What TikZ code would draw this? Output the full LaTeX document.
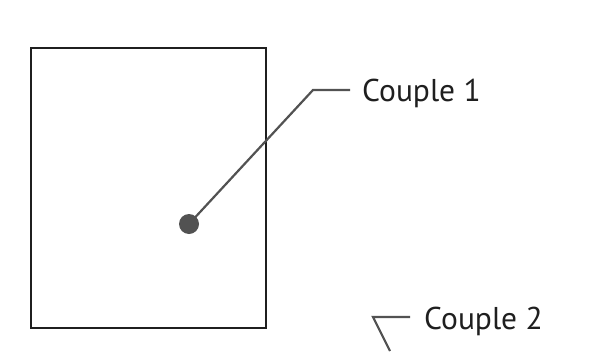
\documentclass[tikz,border=0pt]{standalone}
\usepackage{fontspec}
\setmainfont{PT Sans}
\begin{document}
\begin{tikzpicture}[x=1pt,y=-1pt,
  frame/.style={draw=black!88,line width=2.4pt},
  leader/.style={draw=black!68,line width=2.2pt},
  dotnode/.style={circle,fill=black!68,inner sep=0pt,minimum size=20pt},
  lbl/.style={anchor=base west,inner sep=0pt,text=black!88,font=\fontsize{31.5}{36}\selectfont}]
\useasboundingbox (0,0) rectangle (604,351);
\node[frame,minimum width=235pt,minimum height=280pt,inner sep=0pt] (box) at (148.5,188) {};
\node[dotnode] (dot) at (189,224) {};
\coordinate (b1) at (313,90);
\coordinate (e1) at (350,90);
\node[lbl] (c1) at (362,101.5) {Couple 1};
\draw[leader] (dot.center) -- (b1) -- (e1);
\coordinate (e2) at (410,317);
\coordinate (b2) at (373,317);
\coordinate (f2) at (390,351);
\node[lbl] (c2) at (424,329) {Couple 2};
\draw[leader] (e2) -- (b2) -- (f2);
\end{tikzpicture}
\end{document}
